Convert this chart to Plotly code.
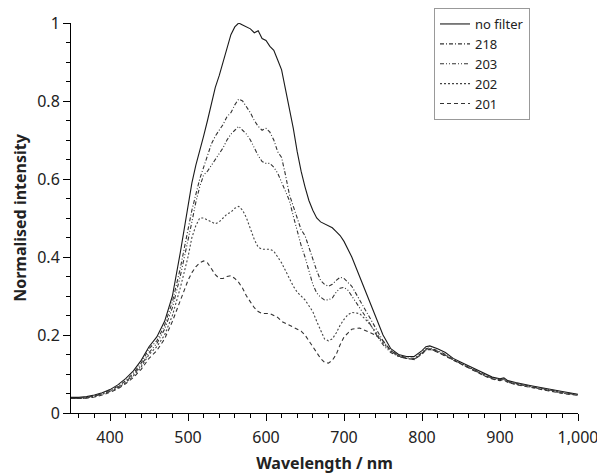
import plotly.graph_objects as go

wavelength = [350, 360, 370, 380, 390, 400, 410, 420, 430, 440, 450, 460, 470, 480, 490,
              500, 505, 510, 515, 520, 525, 530, 535, 540, 545, 550, 555, 560, 565, 570,
              575, 580, 585, 590, 595, 600, 605, 610, 615, 620, 625, 630, 635, 640, 645,
              650, 655, 660, 665, 670, 675, 680, 685, 690, 695, 700, 705, 710, 720, 730,
              740, 750, 760, 770, 780, 790, 800, 805, 810, 820, 830, 840, 850, 860, 870,
              880, 890, 900, 905, 910, 920, 940, 960, 980, 1000]

no_filter = [0.040, 0.040, 0.042, 0.046, 0.052, 0.060, 0.072, 0.088, 0.108, 0.135, 0.170, 0.195, 0.235, 0.300, 0.410,
             0.530, 0.590, 0.635, 0.670, 0.710, 0.750, 0.795, 0.835, 0.865, 0.900, 0.940, 0.970, 0.990, 1.000, 0.995,
             0.990, 0.985, 0.975, 0.980, 0.960, 0.955, 0.940, 0.930, 0.905, 0.880, 0.830, 0.780, 0.730, 0.670, 0.620,
             0.580, 0.545, 0.520, 0.500, 0.490, 0.485, 0.480, 0.475, 0.465, 0.455, 0.440, 0.420, 0.400, 0.350, 0.300,
             0.250, 0.200, 0.165, 0.150, 0.145, 0.145, 0.160, 0.170, 0.172, 0.165, 0.155, 0.140, 0.130, 0.120, 0.110,
             0.100, 0.092, 0.088, 0.090, 0.083, 0.078, 0.070, 0.062, 0.055, 0.048]

f218 = [0.038, 0.038, 0.040, 0.044, 0.050, 0.058, 0.068, 0.083, 0.102, 0.128, 0.165, 0.185, 0.225, 0.285, 0.370,
        0.470, 0.520, 0.560, 0.600, 0.630, 0.660, 0.690, 0.710, 0.725, 0.740, 0.760, 0.770, 0.790, 0.805, 0.800,
        0.785, 0.770, 0.750, 0.735, 0.725, 0.730, 0.720, 0.700, 0.670, 0.655, 0.610, 0.560, 0.530, 0.500, 0.470,
        0.455, 0.425, 0.390, 0.365, 0.340, 0.330, 0.325, 0.330, 0.340, 0.348, 0.345, 0.335, 0.325, 0.290, 0.255,
        0.220, 0.185, 0.160, 0.148, 0.142, 0.140, 0.155, 0.165, 0.167, 0.160, 0.150, 0.137, 0.127, 0.117, 0.107,
        0.098, 0.090, 0.086, 0.088, 0.081, 0.076, 0.068, 0.060, 0.053, 0.047]

f203 = [0.037, 0.037, 0.039, 0.043, 0.049, 0.056, 0.066, 0.080, 0.098, 0.122, 0.155, 0.178, 0.215, 0.270, 0.350,
        0.440, 0.490, 0.540, 0.580, 0.610, 0.620, 0.635, 0.650, 0.665, 0.680, 0.700, 0.715, 0.725, 0.735, 0.725,
        0.715, 0.700, 0.680, 0.660, 0.645, 0.640, 0.640, 0.630, 0.615, 0.590, 0.570, 0.545, 0.505, 0.465, 0.430,
        0.400, 0.365, 0.330, 0.308, 0.297, 0.290, 0.290, 0.295, 0.310, 0.320, 0.322, 0.315, 0.300, 0.270, 0.240,
        0.205, 0.175, 0.155, 0.145, 0.140, 0.138, 0.153, 0.163, 0.165, 0.158, 0.148, 0.136, 0.126, 0.116, 0.106,
        0.097, 0.089, 0.085, 0.087, 0.080, 0.075, 0.067, 0.059, 0.052, 0.046]

f202 = [0.037, 0.037, 0.039, 0.042, 0.048, 0.055, 0.064, 0.078, 0.095, 0.118, 0.150, 0.170, 0.200, 0.250, 0.320,
        0.400, 0.450, 0.480, 0.500, 0.500, 0.495, 0.490, 0.485, 0.490, 0.500, 0.510, 0.515, 0.525, 0.530, 0.520,
        0.500, 0.470, 0.445, 0.425, 0.420, 0.420, 0.420, 0.415, 0.400, 0.385, 0.365, 0.345, 0.325, 0.310, 0.300,
        0.290, 0.275, 0.260, 0.235, 0.210, 0.190, 0.185, 0.190, 0.205, 0.225, 0.240, 0.252, 0.258, 0.255, 0.235,
        0.210, 0.180, 0.158, 0.145, 0.140, 0.137, 0.152, 0.162, 0.164, 0.157, 0.147, 0.135, 0.125, 0.115, 0.105,
        0.096, 0.088, 0.084, 0.086, 0.079, 0.074, 0.066, 0.058, 0.051, 0.046]

f201 = [0.037, 0.037, 0.038, 0.041, 0.046, 0.053, 0.062, 0.075, 0.091, 0.112, 0.140, 0.160, 0.190, 0.235, 0.290,
        0.340, 0.360, 0.375, 0.385, 0.390, 0.385, 0.370, 0.355, 0.345, 0.345, 0.350, 0.352, 0.345, 0.335, 0.320,
        0.300, 0.285, 0.270, 0.260, 0.255, 0.255, 0.255, 0.250, 0.245, 0.235, 0.230, 0.225, 0.220, 0.215, 0.210,
        0.200, 0.185, 0.170, 0.155, 0.140, 0.130, 0.128, 0.135, 0.150, 0.175, 0.195, 0.205, 0.215, 0.218, 0.210,
        0.200, 0.185, 0.160, 0.146, 0.140, 0.137, 0.151, 0.161, 0.163, 0.156, 0.146, 0.134, 0.124, 0.114, 0.104,
        0.095, 0.087, 0.083, 0.085, 0.078, 0.073, 0.065, 0.057, 0.050, 0.045]

series_names = ["no filter", "218", "203", "202", "201"]
series_values = [no_filter, f218, f203, f202, f201]
dashes = ["solid", "4px,2px,1px,2px", "4px,2px,1px,2px,1px,2px", "2px,2px", "4px,3px"]
colors = ["#1a1a1a", "#333333", "#333333", "#444444", "#333333"]

fig = go.Figure()
for name, vals, d, c in zip(series_names, series_values, dashes, colors):
    fig.add_trace(go.Scatter(x=wavelength, y=vals, mode="lines", name=name,
                             line=dict(color=c, width=1.1, dash=d)))

# page body has an 8px default margin, so the figure is sized 8px smaller
FIG_W, FIG_H = 597, 467
font_family = "Noto Sans, Open Sans, DejaVu Sans, sans-serif"
fig.update_layout(
    width=FIG_W, height=FIG_H,
    margin=dict(l=63, r=27, t=15, b=62, autoexpand=False),
    paper_bgcolor="white", plot_bgcolor="white",
    font=dict(family=font_family, size=16, color="#222222"),
    showlegend=True,
    legend=dict(x=522 / FIG_W, y=1.0, xref="container", yref="container",
                xanchor="right", yanchor="top",
                bordercolor="#999999", borderwidth=1, bgcolor="white",
                font=dict(size=13), tracegroupgap=0, itemwidth=30),
    xaxis=dict(range=[350, 1000], tickvals=[400, 500, 600, 700, 800, 900, 1000],
               tickformat=",", ticks="outside", ticklen=7, tickcolor="black", automargin=False,
               ticklabelstandoff=3,
               showline=True, linecolor="black", linewidth=1, showgrid=False, zeroline=False,
               minor=dict(dtick=20, tick0=0, ticks="outside", ticklen=4, tickcolor="black", showgrid=False),
               title=dict(text="<b>Wavelength / nm</b>", font=dict(size=16), standoff=10)),
    yaxis=dict(range=[0, 1], tickvals=[0, 0.2, 0.4, 0.6, 0.8, 1],
               ticks="outside", ticklen=7, tickcolor="black", automargin=False,
               showline=True, linecolor="black", linewidth=1, showgrid=False, zeroline=False,
               minor=dict(dtick=0.05, tick0=0, ticks="outside", ticklen=4, tickcolor="black", showgrid=False),
               title=dict(text="<b>Normalised intensity</b>", font=dict(size=16), standoff=6)),
)

fig.write_html("out.html")
